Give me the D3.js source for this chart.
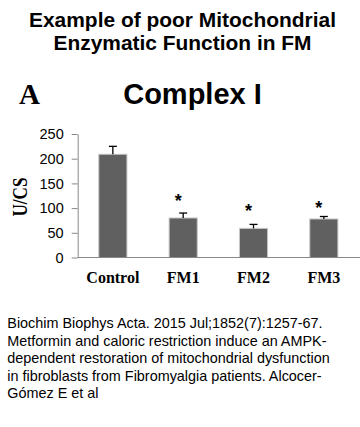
<!DOCTYPE html>
<html><head><meta charset="utf-8">
<script src="https://cdn.jsdelivr.net/npm/d3@7"></script>
<style>
html,body{margin:0;padding:0;background:#fff;}
svg{display:block;}
</style></head>
<body>
<script>
const categories = ["Control", "FM1", "FM2", "FM3"];
const values = [209, 80, 59, 78];
const errors = [16, 10, 8, 5];
const sigMarks = [null, 116, 96, 103];
const yTicks = [0, 50, 100, 150, 200, 250];
const titleLines = ["Example of poor Mitochondrial", "Enzymatic Function in FM"];
const titleWidths = [307, 258];
const captionLines = [
  "Biochim Biophys Acta. 2015 Jul;1852(7):1257-67.",
  "Metformin and caloric restriction induce an AMPK-",
  "dependent restoration of mitochondrial dysfunction",
  "in fibroblasts from Fibromyalgia patients. Alcocer-",
  "Gómez E et al"
];

const W = 360, H = 427;
const svg = d3.select("body").append("svg").attr("width", W).attr("height", H);

// Title
svg.append("g").selectAll("text").data(titleLines).join("text")
  .attr("x", 182.5).attr("y", (d, i) => 27 + i * 22.5)
  .attr("text-anchor", "middle")
  .attr("font-family", "Arial, 'Liberation Sans', sans-serif")
  .attr("font-weight", "bold").attr("font-size", 19.5)
  .attr("textLength", (d, i) => titleWidths[i]).attr("lengthAdjust", "spacingAndGlyphs")
  .text(d => d);

svg.append("text").attr("x", 19).attr("y", 104)
  .attr("font-family", "'Times New Roman', 'Liberation Serif', serif")
  .attr("font-weight", "bold").attr("font-size", 29).text("A");

svg.append("text").attr("x", 192.5).attr("y", 104).attr("text-anchor", "middle")
  .attr("font-family", "Arial, 'Liberation Sans', sans-serif")
  .attr("font-weight", "bold").attr("font-size", 29).text("Complex I");

// Chart
const x = d3.scaleBand().domain(categories).range([77.7, 359]).paddingInner(0.6).paddingOuter(0.3);
const y = d3.scaleLinear().domain([0, 250]).range([257.5, 134]);

const yAxis = svg.append("g").attr("transform", "translate(77.7,0)")
  .call(d3.axisLeft(y).tickValues(yTicks).tickSize(6).tickPadding(8).tickSizeOuter(0));
yAxis.select(".domain").attr("stroke", "#888");
yAxis.selectAll(".tick line").attr("stroke", "#888");
yAxis.selectAll(".tick text")
  .attr("font-family", "Arial, 'Liberation Sans', sans-serif")
  .attr("font-size", 14.5).attr("fill", "#000");

const data = categories.map((c, i) => ({c, v: values[i], e: errors[i], s: sigMarks[i]}));

svg.append("g").selectAll("rect").data(data).join("rect")
  .attr("x", d => x(d.c)).attr("width", x.bandwidth())
  .attr("y", d => y(d.v)).attr("height", d => y(0) - y(d.v))
  .attr("fill", "#606060").attr("stroke", "#c8c8c8").attr("stroke-width", 1);

const eb = svg.append("g").attr("stroke", "#000").attr("stroke-width", 1.3);
eb.selectAll("line.v").data(data).join("line").attr("class", "v")
  .attr("x1", d => x(d.c) + x.bandwidth() / 2).attr("x2", d => x(d.c) + x.bandwidth() / 2)
  .attr("y1", d => y(d.v)).attr("y2", d => y(d.v + d.e));
eb.selectAll("line.h").data(data).join("line").attr("class", "h")
  .attr("x1", d => x(d.c) + x.bandwidth() / 2 - 4).attr("x2", d => x(d.c) + x.bandwidth() / 2 + 4)
  .attr("y1", d => y(d.v + d.e)).attr("y2", d => y(d.v + d.e));

// baseline
svg.append("line").attr("x1", 77.7).attr("x2", 360).attr("y1", y(0)).attr("y2", y(0))
  .attr("stroke", "#888").attr("stroke-width", 1);

svg.append("g").selectAll("text").data(data.filter(d => d.s != null)).join("text")
  .attr("x", d => x(d.c) + x.bandwidth() / 2 - 5).attr("y", d => y(d.s) + 7)
  .attr("text-anchor", "middle")
  .attr("font-family", "Arial, 'Liberation Sans', sans-serif")
  .attr("font-weight", "bold").attr("font-size", 18).text("*");

// x labels
svg.append("g").selectAll("text").data(categories).join("text")
  .attr("x", d => x(d) + x.bandwidth() / 2).attr("y", 282.5)
  .attr("text-anchor", "middle")
  .attr("font-family", "'Times New Roman', 'Liberation Serif', serif")
  .attr("font-weight", "bold").attr("font-size", 16).text(d => d);

// y label
svg.append("text").attr("transform", "translate(27,197) rotate(-90)")
  .attr("text-anchor", "middle")
  .attr("font-family", "'Times New Roman', 'Liberation Serif', serif")
  .attr("font-weight", "bold").attr("font-size", 20)
  .attr("textLength", 39).attr("lengthAdjust", "spacingAndGlyphs")
  .text("U/CS");

// caption
svg.append("g").selectAll("text").data(captionLines).join("text")
  .attr("x", 7.3).attr("y", (d, i) => 328 + i * 17.5)
  .attr("font-family", "Arial, 'Liberation Sans', sans-serif")
  .attr("font-size", 14.4).attr("fill", "#000").text(d => d);
</script>
</body></html>
